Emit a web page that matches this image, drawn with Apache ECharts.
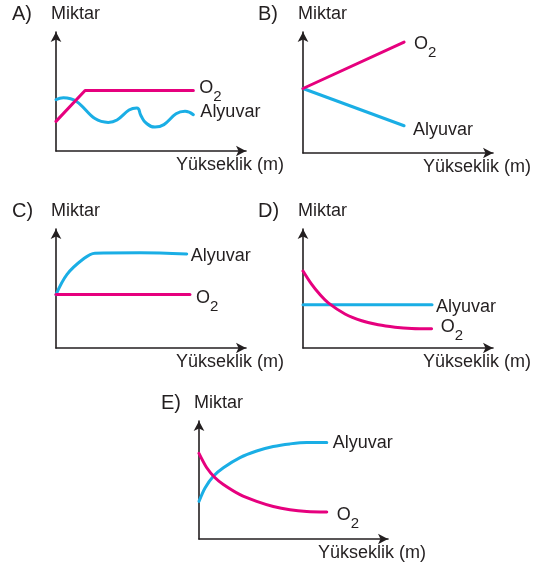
<!DOCTYPE html>
<html>
<head>
<meta charset="utf-8">
<script src="https://cdn.jsdelivr.net/npm/echarts@6/dist/echarts.min.js"></script>
<style>
  html, body { margin: 0; padding: 0; background: #ffffff; }
  #chart { width: 540px; height: 568px; }
</style>
</head>
<body>
<div id="chart"></div>
<script>
// Five small sketches: amount of O2 and red cells (Alyuvar) against altitude.
const panelLetters = ['A)', 'B)', 'C)', 'D)', 'E)'];
const yTitle = 'Miktar';
const xTitle = 'Yükseklik (m)';
const o2Name = 'O2';
const rbcName = 'Alyuvar';

// [altitude, amount] on a 0–100 scale for each sketch
const o2A = [[0, 24.9], [15.3, 50.8], [72.3, 50.8]];
const rbcA = [[0, 43.2], [3.9, 44.7], [27.5, 24.0], [42.5, 36.2], [44.7, 29.7], [47.4, 23.5], [52.1, 20.1], [67.9, 33.3], [72.3, 30.5]];

const o2B = [[0, 53.3], [53.2, 91.7]];
const rbcB = [[0, 53.3], [53.2, 22.5]];

const o2C = [[0, 44.9], [70.5, 44.9]];
const rbcC = [[0, 44.9], [5.8, 61.9], [14.2, 74.6], [20.5, 79.7], [44.2, 80.1], [68.8, 79.0]];

const o2D = [[0, 64.7], [4.6, 53.4], [8.9, 44.9], [13.3, 37.9], [22.1, 28.6], [30.9, 22.9], [39.6, 19.5], [48.4, 17.5], [57.2, 16.4], [67.7, 16.1]];
const rbcD = [[0, 36.4], [67.9, 36.4]];

const o2E = [[0, 72.6], [4.1, 60.4], [8.5, 51.9], [12.9, 46.2], [21.7, 37.6], [30.5, 31.9], [39.3, 27.6], [48.1, 24.8], [57.0, 23.3], [67.6, 22.8]];
const rbcE = [[0, 31.9], [3.2, 43.3], [7.6, 53.2], [12.9, 60.4], [21.7, 69.0], [30.5, 74.6], [39.3, 78.4], [48.1, 80.6], [57.0, 81.8], [67.6, 81.8]];

const INK = '#231f20';
const PINK = '#e6007e';
const CYAN = '#1aaee5';
const FONT = '"Liberation Sans", Arial, Helvetica, sans-serif';

// Frame of each sketch: origin (ox, oy), arrow tips (tx, ty), letter x
const frames = [
  { ox: 56,  oy: 151, tx: 251, ty: 27,  lx: 12 },
  { ox: 303, oy: 153, tx: 498, ty: 27,  lx: 258 },
  { ox: 56,  oy: 348, tx: 251, ty: 224, lx: 12 },
  { ox: 303, oy: 348, tx: 498, ty: 224, lx: 258 },
  { ox: 199, oy: 539, tx: 393, ty: 416, lx: 161 }
];

const panels = [
  { o2: o2A, rbc: rbcA, o2Smooth: false, rbcSmooth: 0.5, o2Off: [6, -3], rbcOff: [7, -2.5] },
  { o2: o2B, rbc: rbcB, o2Smooth: false, rbcSmooth: false, o2Off: [10, 2], rbcOff: [9, 4] },
  { o2: o2C, rbc: rbcC, o2Smooth: false, rbcSmooth: 0.35, o2Off: [6, 3], rbcOff: [4, 2] },
  { o2: o2D, rbc: rbcD, o2Smooth: 0.3, rbcSmooth: false, o2Off: [9, -2], rbcOff: [4, 2] },
  { o2: o2E, rbc: rbcE, o2Smooth: 0.3, rbcSmooth: 0.3, o2Off: [10, 3], rbcOff: [6, 1] }
];

const ARROW_LEN = 10;
const ARROW_HALF = ARROW_LEN / 2;

const grid = [], xAxis = [], yAxis = [], series = [], graphic = [];

const axisLineStyle = {
  show: true,
  symbol: ['none', 'arrow'],
  symbolSize: [8, ARROW_LEN],
  lineStyle: { color: INK, width: 1.6 }
};

frames.forEach((f, i) => {
  grid.push({
    left: f.ox,
    top: f.ty + ARROW_HALF,
    width: f.tx - ARROW_HALF - f.ox,
    height: f.oy - f.ty - ARROW_HALF,
    containLabel: false
  });
  xAxis.push({
    type: 'value', gridIndex: i, min: 0, max: 100,
    axisLine: axisLineStyle, axisTick: { show: false },
    axisLabel: { show: false }, splitLine: { show: false }
  });
  yAxis.push({
    type: 'value', gridIndex: i, min: 0, max: 100,
    axisLine: axisLineStyle, axisTick: { show: false },
    axisLabel: { show: false }, splitLine: { show: false }
  });

  const p = panels[i];
  series.push({
    name: rbcName, type: 'line', xAxisIndex: i, yAxisIndex: i,
    data: p.rbc, smooth: p.rbcSmooth, showSymbol: false, silent: true,
    lineStyle: { color: CYAN, width: 3, cap: 'round', join: 'round' },
    itemStyle: { color: CYAN },
    endLabel: {
      show: true, distance: 0, offset: p.rbcOff,
      align: 'left', verticalAlign: 'middle',
      formatter: rbcName,
      color: INK, fontFamily: FONT, fontSize: 18
    },
    z: 3
  });
  series.push({
    name: o2Name, type: 'line', xAxisIndex: i, yAxisIndex: i,
    data: p.o2, smooth: p.o2Smooth, showSymbol: false, silent: true,
    lineStyle: { color: PINK, width: 3, cap: 'round', join: 'round' },
    itemStyle: { color: PINK },
    endLabel: {
      show: true, distance: 0, offset: p.o2Off,
      align: 'left', verticalAlign: 'middle',
      formatter: '{o|O}{s|2}',
      rich: {
        o: { color: INK, fontFamily: FONT, fontSize: 18 },
        s: { color: INK, fontFamily: FONT, fontSize: 15, padding: [18, 0, 0, 0] }
      }
    },
    z: 4
  });

  const capY = f.ty - 13;
  graphic.push({
    type: 'text', x: f.lx, y: capY,
    style: { text: panelLetters[i], fill: INK, font: '20px ' + FONT,
             align: 'left', verticalAlign: 'middle', textAlign: 'left', textVerticalAlign: 'middle' }
  });
  graphic.push({
    type: 'text', x: f.ox - 5, y: capY,
    style: { text: yTitle, fill: INK, font: '18px ' + FONT,
             align: 'left', verticalAlign: 'middle', textAlign: 'left', textVerticalAlign: 'middle' }
  });
  graphic.push({
    type: 'text', x: f.tx + 33, y: f.oy + 14,
    style: { text: xTitle, fill: INK, font: '18px ' + FONT,
             align: 'right', verticalAlign: 'middle', textAlign: 'right', textVerticalAlign: 'middle' }
  });
});

const chart = echarts.init(document.getElementById('chart'), null, { renderer: 'canvas' });
chart.setOption({
  animation: false,
  backgroundColor: '#ffffff',
  grid, xAxis, yAxis, series, graphic
});
</script>
</body>
</html>
